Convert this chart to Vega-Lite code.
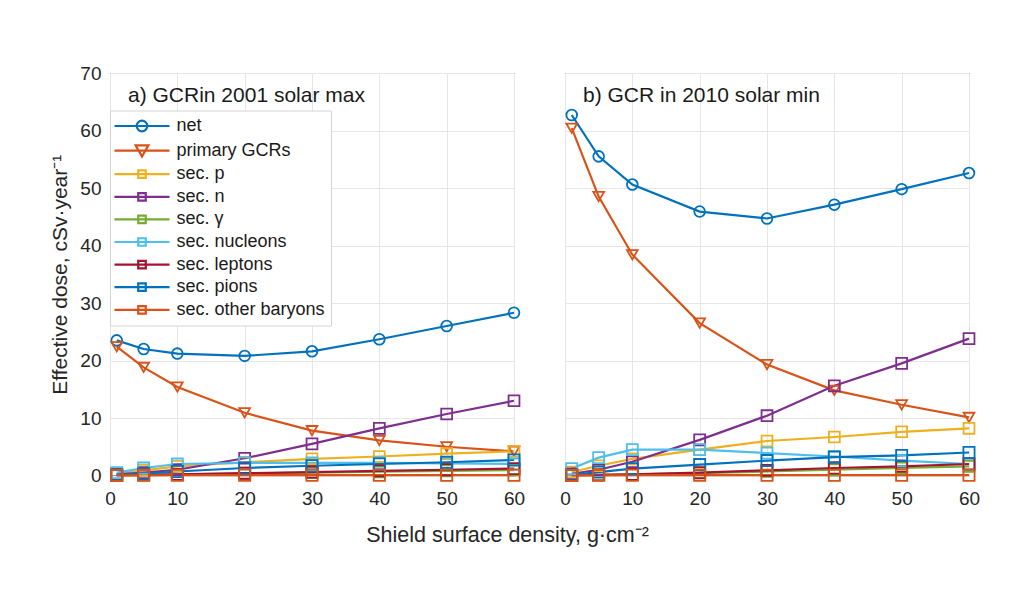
{
  "$schema": "https://vega.github.io/schema/vega-lite/v6.json",
  "background": "white",
  "padding": {"left": 49, "top": 63, "right": 0, "bottom": 0},
  "bounds": "flush",
  "spacing": 51,
  "config": {
    "font": "Liberation Sans",
    "view": {"stroke": "#404040", "strokeWidth": 1},
    "axis": {
      "grid": true,
      "gridColor": "#e6e6e6",
      "domain": false,
      "ticks": false,
      "labelFontSize": 19,
      "labelColor": "#262626",
      "labelFlush": false,
      "labelOverlap": false,
      "titleFontWeight": "normal",
      "titleColor": "#262626"
    },
    "title": {"fontSize": 21, "fontWeight": "normal", "color": "#1a1a1a"}
  },
  "datasets": {
    "dose": [
      {"panel": "a", "series": "net", "x": 1, "y": 23.5},
      {"panel": "a", "series": "net", "x": 5, "y": 22.0},
      {"panel": "a", "series": "net", "x": 10, "y": 21.2},
      {"panel": "a", "series": "net", "x": 20, "y": 20.8},
      {"panel": "a", "series": "net", "x": 30, "y": 21.6},
      {"panel": "a", "series": "net", "x": 40, "y": 23.7},
      {"panel": "a", "series": "net", "x": 50, "y": 26.0},
      {"panel": "a", "series": "net", "x": 60, "y": 28.3},
      {"panel": "a", "series": "primary GCRs", "x": 1, "y": 22.4},
      {"panel": "a", "series": "primary GCRs", "x": 5, "y": 18.8},
      {"panel": "a", "series": "primary GCRs", "x": 10, "y": 15.4},
      {"panel": "a", "series": "primary GCRs", "x": 20, "y": 10.9},
      {"panel": "a", "series": "primary GCRs", "x": 30, "y": 7.8},
      {"panel": "a", "series": "primary GCRs", "x": 40, "y": 6.1},
      {"panel": "a", "series": "primary GCRs", "x": 50, "y": 5.0},
      {"panel": "a", "series": "primary GCRs", "x": 60, "y": 4.2},
      {"panel": "a", "series": "sec. p", "x": 1, "y": 0.3},
      {"panel": "a", "series": "sec. p", "x": 5, "y": 0.9},
      {"panel": "a", "series": "sec. p", "x": 10, "y": 1.6},
      {"panel": "a", "series": "sec. p", "x": 20, "y": 2.3},
      {"panel": "a", "series": "sec. p", "x": 30, "y": 2.9},
      {"panel": "a", "series": "sec. p", "x": 40, "y": 3.3},
      {"panel": "a", "series": "sec. p", "x": 50, "y": 3.8},
      {"panel": "a", "series": "sec. p", "x": 60, "y": 4.2},
      {"panel": "a", "series": "sec. n", "x": 1, "y": 0.2},
      {"panel": "a", "series": "sec. n", "x": 5, "y": 0.5},
      {"panel": "a", "series": "sec. n", "x": 10, "y": 1.0},
      {"panel": "a", "series": "sec. n", "x": 20, "y": 3.0},
      {"panel": "a", "series": "sec. n", "x": 30, "y": 5.5},
      {"panel": "a", "series": "sec. n", "x": 40, "y": 8.2},
      {"panel": "a", "series": "sec. n", "x": 50, "y": 10.7},
      {"panel": "a", "series": "sec. n", "x": 60, "y": 13.0},
      {"panel": "a", "series": "sec. γ", "x": 1, "y": 0.05},
      {"panel": "a", "series": "sec. γ", "x": 5, "y": 0.1},
      {"panel": "a", "series": "sec. γ", "x": 10, "y": 0.2},
      {"panel": "a", "series": "sec. γ", "x": 20, "y": 0.35},
      {"panel": "a", "series": "sec. γ", "x": 30, "y": 0.5},
      {"panel": "a", "series": "sec. γ", "x": 40, "y": 0.65},
      {"panel": "a", "series": "sec. γ", "x": 50, "y": 0.8},
      {"panel": "a", "series": "sec. γ", "x": 60, "y": 0.95},
      {"panel": "a", "series": "sec. nucleons", "x": 1, "y": 0.5},
      {"panel": "a", "series": "sec. nucleons", "x": 5, "y": 1.3},
      {"panel": "a", "series": "sec. nucleons", "x": 10, "y": 2.0},
      {"panel": "a", "series": "sec. nucleons", "x": 20, "y": 2.2},
      {"panel": "a", "series": "sec. nucleons", "x": 30, "y": 2.2},
      {"panel": "a", "series": "sec. nucleons", "x": 40, "y": 2.2},
      {"panel": "a", "series": "sec. nucleons", "x": 50, "y": 2.1},
      {"panel": "a", "series": "sec. nucleons", "x": 60, "y": 2.0},
      {"panel": "a", "series": "sec. leptons", "x": 1, "y": 0.05},
      {"panel": "a", "series": "sec. leptons", "x": 5, "y": 0.1},
      {"panel": "a", "series": "sec. leptons", "x": 10, "y": 0.2},
      {"panel": "a", "series": "sec. leptons", "x": 20, "y": 0.4},
      {"panel": "a", "series": "sec. leptons", "x": 30, "y": 0.6},
      {"panel": "a", "series": "sec. leptons", "x": 40, "y": 0.8},
      {"panel": "a", "series": "sec. leptons", "x": 50, "y": 1.0},
      {"panel": "a", "series": "sec. leptons", "x": 60, "y": 1.2},
      {"panel": "a", "series": "sec. pions", "x": 1, "y": 0.1},
      {"panel": "a", "series": "sec. pions", "x": 5, "y": 0.3},
      {"panel": "a", "series": "sec. pions", "x": 10, "y": 0.7},
      {"panel": "a", "series": "sec. pions", "x": 20, "y": 1.3},
      {"panel": "a", "series": "sec. pions", "x": 30, "y": 1.7},
      {"panel": "a", "series": "sec. pions", "x": 40, "y": 2.0},
      {"panel": "a", "series": "sec. pions", "x": 50, "y": 2.3},
      {"panel": "a", "series": "sec. pions", "x": 60, "y": 2.7},
      {"panel": "a", "series": "sec. other baryons", "x": 1, "y": 0.02},
      {"panel": "a", "series": "sec. other baryons", "x": 5, "y": 0.03},
      {"panel": "a", "series": "sec. other baryons", "x": 10, "y": 0.04},
      {"panel": "a", "series": "sec. other baryons", "x": 20, "y": 0.05},
      {"panel": "a", "series": "sec. other baryons", "x": 30, "y": 0.05},
      {"panel": "a", "series": "sec. other baryons", "x": 40, "y": 0.05},
      {"panel": "a", "series": "sec. other baryons", "x": 50, "y": 0.05},
      {"panel": "a", "series": "sec. other baryons", "x": 60, "y": 0.05},
      {"panel": "b", "series": "net", "x": 1, "y": 62.7},
      {"panel": "b", "series": "net", "x": 5, "y": 55.5},
      {"panel": "b", "series": "net", "x": 10, "y": 50.6},
      {"panel": "b", "series": "net", "x": 20, "y": 45.9},
      {"panel": "b", "series": "net", "x": 30, "y": 44.7},
      {"panel": "b", "series": "net", "x": 40, "y": 47.1},
      {"panel": "b", "series": "net", "x": 50, "y": 49.8},
      {"panel": "b", "series": "net", "x": 60, "y": 52.6},
      {"panel": "b", "series": "primary GCRs", "x": 1, "y": 60.4},
      {"panel": "b", "series": "primary GCRs", "x": 5, "y": 48.5},
      {"panel": "b", "series": "primary GCRs", "x": 10, "y": 38.4},
      {"panel": "b", "series": "primary GCRs", "x": 20, "y": 26.5},
      {"panel": "b", "series": "primary GCRs", "x": 30, "y": 19.3},
      {"panel": "b", "series": "primary GCRs", "x": 40, "y": 14.8},
      {"panel": "b", "series": "primary GCRs", "x": 50, "y": 12.3},
      {"panel": "b", "series": "primary GCRs", "x": 60, "y": 10.1},
      {"panel": "b", "series": "sec. p", "x": 1, "y": 0.6},
      {"panel": "b", "series": "sec. p", "x": 5, "y": 1.7},
      {"panel": "b", "series": "sec. p", "x": 10, "y": 2.9},
      {"panel": "b", "series": "sec. p", "x": 20, "y": 4.5},
      {"panel": "b", "series": "sec. p", "x": 30, "y": 6.0},
      {"panel": "b", "series": "sec. p", "x": 40, "y": 6.7},
      {"panel": "b", "series": "sec. p", "x": 50, "y": 7.6},
      {"panel": "b", "series": "sec. p", "x": 60, "y": 8.2},
      {"panel": "b", "series": "sec. n", "x": 1, "y": 0.3},
      {"panel": "b", "series": "sec. n", "x": 5, "y": 1.0},
      {"panel": "b", "series": "sec. n", "x": 10, "y": 2.4},
      {"panel": "b", "series": "sec. n", "x": 20, "y": 6.2},
      {"panel": "b", "series": "sec. n", "x": 30, "y": 10.4},
      {"panel": "b", "series": "sec. n", "x": 40, "y": 15.6},
      {"panel": "b", "series": "sec. n", "x": 50, "y": 19.5},
      {"panel": "b", "series": "sec. n", "x": 60, "y": 23.8},
      {"panel": "b", "series": "sec. γ", "x": 1, "y": 0.02},
      {"panel": "b", "series": "sec. γ", "x": 5, "y": 0.1},
      {"panel": "b", "series": "sec. γ", "x": 10, "y": 0.2},
      {"panel": "b", "series": "sec. γ", "x": 20, "y": 0.4},
      {"panel": "b", "series": "sec. γ", "x": 30, "y": 0.7},
      {"panel": "b", "series": "sec. γ", "x": 40, "y": 1.0},
      {"panel": "b", "series": "sec. γ", "x": 50, "y": 1.3},
      {"panel": "b", "series": "sec. γ", "x": 60, "y": 1.6},
      {"panel": "b", "series": "sec. nucleons", "x": 1, "y": 1.2},
      {"panel": "b", "series": "sec. nucleons", "x": 5, "y": 3.1},
      {"panel": "b", "series": "sec. nucleons", "x": 10, "y": 4.5},
      {"panel": "b", "series": "sec. nucleons", "x": 20, "y": 4.5},
      {"panel": "b", "series": "sec. nucleons", "x": 30, "y": 3.9},
      {"panel": "b", "series": "sec. nucleons", "x": 40, "y": 3.3},
      {"panel": "b", "series": "sec. nucleons", "x": 50, "y": 2.6},
      {"panel": "b", "series": "sec. nucleons", "x": 60, "y": 2.0},
      {"panel": "b", "series": "sec. leptons", "x": 1, "y": 0.05},
      {"panel": "b", "series": "sec. leptons", "x": 5, "y": 0.1},
      {"panel": "b", "series": "sec. leptons", "x": 10, "y": 0.2},
      {"panel": "b", "series": "sec. leptons", "x": 20, "y": 0.5},
      {"panel": "b", "series": "sec. leptons", "x": 30, "y": 0.9},
      {"panel": "b", "series": "sec. leptons", "x": 40, "y": 1.3},
      {"panel": "b", "series": "sec. leptons", "x": 50, "y": 1.6},
      {"panel": "b", "series": "sec. leptons", "x": 60, "y": 2.0},
      {"panel": "b", "series": "sec. pions", "x": 1, "y": 0.1},
      {"panel": "b", "series": "sec. pions", "x": 5, "y": 0.6},
      {"panel": "b", "series": "sec. pions", "x": 10, "y": 1.2},
      {"panel": "b", "series": "sec. pions", "x": 20, "y": 1.9},
      {"panel": "b", "series": "sec. pions", "x": 30, "y": 2.6},
      {"panel": "b", "series": "sec. pions", "x": 40, "y": 3.2},
      {"panel": "b", "series": "sec. pions", "x": 50, "y": 3.5},
      {"panel": "b", "series": "sec. pions", "x": 60, "y": 4.0},
      {"panel": "b", "series": "sec. other baryons", "x": 1, "y": 0.02},
      {"panel": "b", "series": "sec. other baryons", "x": 5, "y": 0.03},
      {"panel": "b", "series": "sec. other baryons", "x": 10, "y": 0.04},
      {"panel": "b", "series": "sec. other baryons", "x": 20, "y": 0.05},
      {"panel": "b", "series": "sec. other baryons", "x": 30, "y": 0.05},
      {"panel": "b", "series": "sec. other baryons", "x": 40, "y": 0.05},
      {"panel": "b", "series": "sec. other baryons", "x": 50, "y": 0.05},
      {"panel": "b", "series": "sec. other baryons", "x": 60, "y": 0.05}
    ]
  },
  "data": {"name": "dose"},
  "resolve": {"legend": {"color": "independent"}},
  "hconcat": [
    {
      "width": 404,
      "height": 402.5,
      "title": {"text": "a) GCRin 2001 solar max", "anchor": "start", "frame": "group", "baseline": "alphabetic", "offset": -59, "dx": 18},
      "transform": [{"filter": "datum.panel === 'a'"}],
      "encoding": {
        "x": {"field": "x", "type": "quantitative", "scale": {"domain": [0, 60], "nice": false},
          "axis": {"values": [0, 10, 20, 30, 40, 50, 60], "labelPadding": 14, "title": "Shield surface density, g·cm⁻²", "titleFontSize": 21.5, "titleX": 397, "titleY": 66, "titleBaseline": "alphabetic", "titleAnchor": "middle", "titleAlign": "center"}},
        "y": {"field": "y", "type": "quantitative", "scale": {"domain": [0, 70], "nice": false},
          "axis": {"values": [0, 10, 20, 30, 40, 50, 60, 70], "labelPadding": 9, "titlePadding": 9, "titleFontSize": 21, "title": "Effective dose, cSv·year⁻¹"}},
        "color": {"field": "series", "type": "nominal",
          "scale": {"domain": ["net", "primary GCRs", "sec. p", "sec. n", "sec. γ", "sec. nucleons", "sec. leptons", "sec. pions", "sec. other baryons"],
            "range": ["#0072BD", "#D95319", "#EDB120", "#7E2F8E", "#77AC30", "#4DBEEE", "#A2142F", "#0072BD", "#D95319"]},
          "legend": {
            "orient": "none", "legendX": 0, "legendY": 37.5, "title": null,
            "fillColor": "white", "strokeColor": "#d4d4d4", "padding": 6,
            "symbolSize": 256, "symbolOffset": 16.5, "symbolStrokeWidth": 2.2, "symbolFillColor": "transparent",
            "labelFontSize": 18, "labelOffset": 25, "labelColor": "#1a1a1a", "labelLimit": 300, "rowPadding": 3.6,
            "encode": {"symbols": {"update": {"shape": {"signal": "datum.value === 'net' ? 'M-3.44,0L3.44,0M0.66,0A0.66,0.66,0,1,1,-0.66,0A0.66,0.66,0,1,1,0.66,0' : datum.value === 'primary GCRs' ? 'M-3.44,0L3.44,0M-0.8,-0.65L0.8,-0.65L0,0.75Z' : 'M-3.44,0L3.44,0M-0.47,-0.47L0.47,-0.47L0.47,0.47L-0.47,0.47Z'"}, "fill": {"value": "transparent"}}}}
          }}
      },
      "layer": [
        {"mark": {"type": "line", "strokeWidth": 2.2}},
        {"mark": {"type": "point", "filled": false, "strokeWidth": 1.8, "opacity": 1},
          "encoding": {
            "shape": {"field": "series", "type": "nominal", "legend": null,
              "scale": {"domain": ["net", "primary GCRs", "sec. p", "sec. n", "sec. γ", "sec. nucleons", "sec. leptons", "sec. pions", "sec. other baryons"],
                "range": ["circle", "triangle-down", "square", "square", "square", "square", "square", "square", "square"]}},
            "size": {"field": "series", "type": "ordinal", "legend": null,
              "scale": {"domain": ["net", "primary GCRs", "sec. p", "sec. n", "sec. γ", "sec. nucleons", "sec. leptons", "sec. pions", "sec. other baryons"],
                "range": [115, 125, 50, 50, 50, 50, 50, 50, 50]}}
          }}
      ]
    },
    {
      "width": 404,
      "height": 402.5,
      "title": {"text": "b) GCR in 2010 solar min", "anchor": "start", "frame": "group", "baseline": "alphabetic", "offset": -49.5, "dx": 18},
      "transform": [{"filter": "datum.panel === 'b'"}],
      "encoding": {
        "x": {"field": "x", "type": "quantitative", "scale": {"domain": [0, 60], "nice": false},
          "axis": {"values": [0, 10, 20, 30, 40, 50, 60], "labelPadding": 14, "title": null}},
        "y": {"field": "y", "type": "quantitative", "scale": {"domain": [0, 70], "nice": false},
          "axis": {"values": [0, 10, 20, 30, 40, 50, 60, 70], "labels": false, "title": null}},
        "color": {"field": "series", "type": "nominal",
          "scale": {"domain": ["net", "primary GCRs", "sec. p", "sec. n", "sec. γ", "sec. nucleons", "sec. leptons", "sec. pions", "sec. other baryons"],
            "range": ["#0072BD", "#D95319", "#EDB120", "#7E2F8E", "#77AC30", "#4DBEEE", "#A2142F", "#0072BD", "#D95319"]},
          "legend": null}
      },
      "layer": [
        {"mark": {"type": "line", "strokeWidth": 2.2}},
        {"mark": {"type": "point", "filled": false, "strokeWidth": 1.8, "opacity": 1},
          "encoding": {
            "shape": {"field": "series", "type": "nominal", "legend": null,
              "scale": {"domain": ["net", "primary GCRs", "sec. p", "sec. n", "sec. γ", "sec. nucleons", "sec. leptons", "sec. pions", "sec. other baryons"],
                "range": ["circle", "triangle-down", "square", "square", "square", "square", "square", "square", "square"]}},
            "size": {"field": "series", "type": "ordinal", "legend": null,
              "scale": {"domain": ["net", "primary GCRs", "sec. p", "sec. n", "sec. γ", "sec. nucleons", "sec. leptons", "sec. pions", "sec. other baryons"],
                "range": [115, 125, 50, 50, 50, 50, 50, 50, 50]}}
          }}
      ]
    }
  ]
}
